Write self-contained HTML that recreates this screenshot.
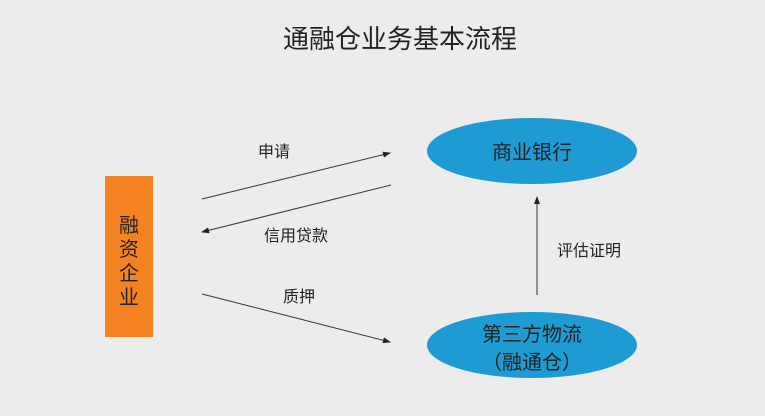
<!DOCTYPE html>
<html><head><meta charset="utf-8"><style>
body{margin:0;background:#ebebeb;}
svg{display:block}
text{font-family:"Liberation Sans","Noto Sans CJK SC",sans-serif;fill:#222}
</style></head><body>
<svg width="765" height="416" viewBox="0 0 765 416" xmlns="http://www.w3.org/2000/svg">
<rect width="765" height="416" fill="#ececec"/>
<defs><marker id="a" markerWidth="8" markerHeight="6" refX="7" refY="3" orient="auto" markerUnits="userSpaceOnUse"><path d="M0,0 L8,3 L0,6 z" fill="#222"/></marker></defs>
<text x="400" y="48" font-size="26" text-anchor="middle">通融仓业务基本流程</text>
<rect x="105" y="176" width="48" height="161" fill="#f58220"/>
<text x="129" y="232" font-size="20" text-anchor="middle">融</text>
<text x="129" y="256" font-size="20" text-anchor="middle">资</text>
<text x="129" y="280" font-size="20" text-anchor="middle">企</text>
<text x="129" y="304" font-size="20" text-anchor="middle">业</text>
<ellipse cx="532" cy="151" rx="105" ry="33" fill="#1e9bd2"/>
<text x="532" y="159" font-size="20" text-anchor="middle">商业银行</text>
<ellipse cx="532" cy="345" rx="105" ry="33" fill="#1e9bd2"/>
<text x="532" y="341" font-size="20" text-anchor="middle">第三方物流</text>
<text x="532" y="369" font-size="20" text-anchor="middle">（融通仓）</text>
<line x1="202" y1="199" x2="390" y2="153" stroke="#333" stroke-width="1" marker-end="url(#a)"/>
<line x1="391" y1="185" x2="202" y2="232" stroke="#333" stroke-width="1" marker-end="url(#a)"/>
<line x1="202" y1="294" x2="390" y2="342" stroke="#333" stroke-width="1" marker-end="url(#a)"/>
<line x1="537" y1="295" x2="537" y2="197" stroke="#333" stroke-width="1" marker-end="url(#a)"/>
<text x="274" y="157" font-size="16" text-anchor="middle">申请</text>
<text x="296" y="241" font-size="16" text-anchor="middle">信用贷款</text>
<text x="299" y="302" font-size="16" text-anchor="middle">质押</text>
<text x="589" y="256" font-size="16" text-anchor="middle">评估证明</text>
</svg>
</body></html>
